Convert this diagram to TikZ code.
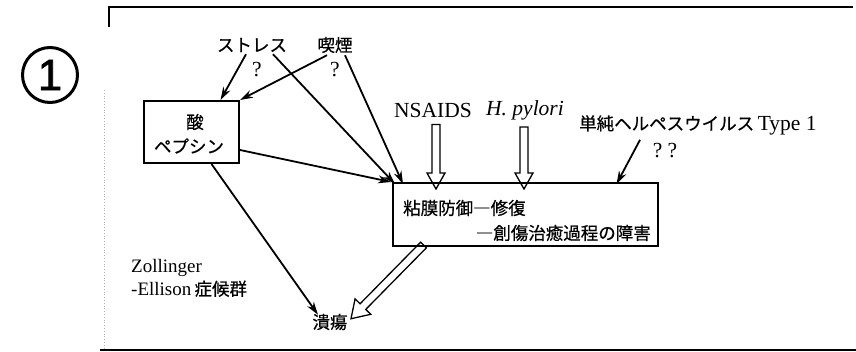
\documentclass[tikz,border=0pt]{standalone}
\usepackage{fontspec}
\setmainfont{Liberation Serif}
\newfontfamily\jp[FakeBold=0.6]{Noto Sans CJK JP}
\newfontfamily\onefont[FakeBold=1.5]{Liberation Sans}
\usetikzlibrary{arrows.meta,calc}
\tikzset{
  lbl/.style={inner sep=1pt, font=\fontsize{17.5}{20}\selectfont\jp},
  lat/.style={inner sep=1pt, font=\fontsize{21.5}{22}\selectfont},
  boxed/.style={draw, line width=2pt, inner sep=0pt},
  arr/.style={line width=1.8pt, -{Stealth[length=13pt,width=8pt]}},
  hol/.style={line width=1.3pt, line join=miter},
}
\newcommand\hollowarr[5]{% from, to, shaft half width, head half width, head length
  \coordinate (hb) at ($(#2)!#5!(#1)$);
  \draw[hol] ($(#1)!#3!90:(#2)$) -- ($(hb)!#3!-90:(#1)$) -- ($(hb)!#4!-90:(#1)$) -- (#2)
    -- ($(hb)!#4!90:(#1)$) -- ($(hb)!#3!90:(#1)$) -- ($(#1)!#3!-90:(#2)$) -- cycle;}
\begin{document}
\begin{tikzpicture}[x=1pt,y=-1pt]
\useasboundingbox (0,0) rectangle (856,352);
% frame
\draw[line width=1.6pt] (109,27) -- (109,7) -- (853,7);
\draw[line width=1.6pt] (100,350) -- (856,350);
\draw[gray!60, dotted, line width=0.8pt] (104,90) -- (104,348);
% circled one
\node[circle, draw, line width=3pt, minimum size=55pt, inner sep=0pt,
      font=\fontsize{44}{44}\selectfont\onefont] (one) at (50,75) {1};
% nodes
\node[lbl] (stress) at (252,45) {ストレス};
\node[lbl] (smoke) at (335,45) {喫煙};
\node[lat] (q1) at (257,70) {?};
\node[lat] (q2) at (335,70) {?};
\node[boxed, minimum width=95pt, minimum height=62pt] (acid) at (191.5,132) {};
\node[lbl] (acidt) at (195,122) {酸};
\node[lbl] (pep) at (189,146) {ペプシン};
\node[boxed, minimum width=265pt, minimum height=63pt] (big) at (525.5,214.5) {};
\node[lbl, anchor=west] (bt1) at (402,208) {粘膜防御―修復};
\node[lbl, anchor=east] (bt2) at (652,233) {―創傷治癒過程の障害};
\node[lat] (nsaids) at (433,110) {NSAIDS};
\node[lat] (hp) at (525,110) {\itshape H.\ pylori};
\node[lat, anchor=west] (hsv) at (578,125) {{\jp\fontsize{17.5}{20}\selectfont 単純ヘルペスウイルス}\,Type 1};
\node[lat] (qq) at (665,151) {?\ ?};
\node[lbl] (ulcer) at (330,322) {潰瘍};
\node[lat, anchor=west, align=left, font=\fontsize{19}{23}\selectfont] (zoll) at (130,278)
  {Zollinger\\-Ellison\,{\jp\fontsize{17.5}{20}\selectfont 症候群}};
% arrows
\draw[arr] ([xshift=-6pt,yshift=-1pt]stress.south) -- ([xshift=29pt]acid.north);
\draw[arr] ([xshift=-8pt,yshift=-1pt]smoke.south) -- (acid.north east);
\draw[arr] ([xshift=21pt,yshift=-1pt]stress.south) -- ([xshift=3pt,yshift=-2pt]big.north west);
\draw[arr] ([xshift=10pt,yshift=-1pt]smoke.south) -- ([xshift=11pt,yshift=-2pt]big.north west);
\draw[arr] ([yshift=-18pt]acid.east) -- ([xshift=-1pt]big.north west);
\draw[arr] ([xshift=20pt]acid.south) -- ([xshift=-12pt,yshift=-2pt]ulcer.north);
\draw[arr] ([xshift=62pt,yshift=-4pt]hsv.south west) -- ([xshift=91pt,yshift=-2pt]big.north);
% hollow arrows
\coordinate (n1) at ([xshift=3pt,yshift=-6pt]nsaids.south);
\coordinate (n2) at ([yshift=-7pt]big.north -| n1);
\hollowarr{n1}{n2}{4pt}{9pt}{16pt}
\coordinate (h1) at ([xshift=-1pt,yshift=-6pt]hp.south);
\coordinate (h2) at ([yshift=-7pt]big.north -| h1);
\hollowarr{h1}{h2}{4pt}{9pt}{16pt}
\coordinate (f1) at ([xshift=-102pt,yshift=2pt]big.south);
\coordinate (f2) at ([xshift=21pt,yshift=-6pt]ulcer.north);
\hollowarr{f1}{f2}{4pt}{11pt}{17pt}
\end{tikzpicture}
\end{document}
